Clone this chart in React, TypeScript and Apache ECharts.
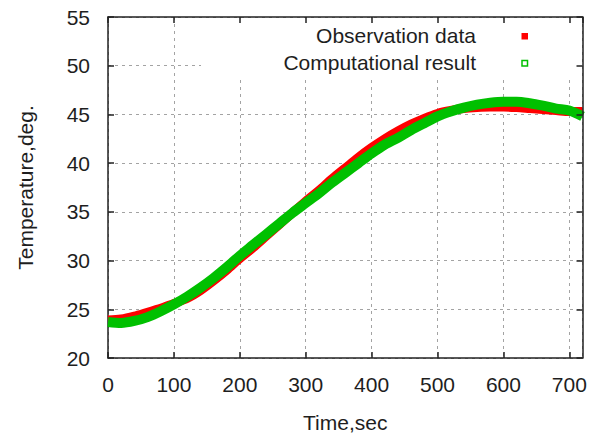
import React, { useEffect, useRef } from "react";
import * as echarts from "echarts";

// time (sec)
const times: number[] = [
  0, 20, 40, 60, 80, 100, 120, 140, 160, 180, 200, 220, 240, 260, 280, 300, 320, 340, 360,
  380, 400, 420, 440, 460, 480, 500, 520, 540, 560, 580, 600, 620, 640, 660, 680, 700, 720,
];

// Observation data (deg.)
const observed: number[] = [
  23.9, 24.0, 24.3, 24.7, 25.1, 25.6, 26.1, 26.9, 27.9, 29.0, 30.2, 31.3, 32.5, 33.7, 34.9,
  36.1, 37.2, 38.4, 39.5, 40.6, 41.6, 42.5, 43.3, 44.0, 44.6, 45.1, 45.4, 45.6, 45.7, 45.75,
  45.75, 45.7, 45.6, 45.5, 45.4, 45.3, 45.3,
];

// Computational result (deg.)
const computed: number[] = [
  23.7, 23.6, 23.8, 24.2, 24.8, 25.5, 26.3, 27.2, 28.2, 29.3, 30.5, 31.6, 32.7, 33.8, 34.9,
  35.9, 36.9, 38.0, 39.0, 40.0, 41.0, 41.9, 42.6, 43.4, 44.1, 44.8, 45.3, 45.7, 46.0, 46.2,
  46.3, 46.3, 46.15, 45.9, 45.6, 45.4, 44.8,
];

const seriesNames = ["Observation data", "Computational result"];
const xTitle = "Time,sec";
const yTitle = "Temperature,deg.";

const FONT = "'Liberation Sans', Arial, sans-serif";
const TXT = "#1e1e1e";

export default function App() {
  const ref = useRef<HTMLDivElement>(null);
  useEffect(() => {
    if (!ref.current) return;
    document.body.style.margin = "0";
    const chart = echarts.init(ref.current, undefined, { renderer: "svg" });
    const pairs = (ys: number[]) => times.map((t, i) => [t, ys[i]]);
    const gridLine = { show: true, lineStyle: { color: "#a3a3a3", width: 1, type: [3, 4] as any } };
    const axisLine = { show: true, onZero: false, lineStyle: { color: "#222", width: 1.5 } };
    const axisTick = { show: true, inside: true, length: 6, lineStyle: { color: "#222", width: 1.5 } };
    chart.setOption({
      animation: false,
      backgroundColor: "#ffffff",
      textStyle: { fontFamily: FONT },
      grid: { left: 108, top: 17, width: 474.5, height: 342, containLabel: false },
      xAxis: [
        {
          type: "value",
          min: 0,
          max: 720,
          interval: 100,
          position: "bottom",
          name: xTitle,
          nameLocation: "middle",
          nameGap: 54,
          nameTextStyle: { fontSize: 21, color: TXT, fontFamily: FONT },
          axisLine,
          axisTick,
          splitLine: gridLine,
          axisLabel: {
            fontSize: 21,
            color: TXT,
            fontFamily: FONT,
            margin: 16,
            showMaxLabel: false,
            formatter: (v: number) => (v % 100 === 0 ? String(v) : ""),
          },
        },
        {
          type: "value",
          min: 0,
          max: 720,
          interval: 100,
          position: "top",
          z: 10,
          axisLine,
          axisTick,
          splitLine: { show: false },
          axisLabel: { show: false },
        },
      ],
      yAxis: [
        {
          type: "value",
          min: 20,
          max: 55,
          interval: 5,
          position: "left",
          name: yTitle,
          nameLocation: "middle",
          nameGap: 72,
          nameRotate: 90,
          nameTextStyle: { fontSize: 21, color: TXT, fontFamily: FONT },
          axisLine,
          axisTick,
          splitLine: gridLine,
          axisLabel: { fontSize: 21, color: TXT, fontFamily: FONT, margin: 18 },
        },
        {
          type: "value",
          min: 20,
          max: 55,
          interval: 5,
          position: "right",
          z: 10,
          axisLine,
          axisTick,
          splitLine: { show: false },
          axisLabel: { show: false },
        },
      ],
      series: [
        {
          name: seriesNames[0],
          type: "line",
          data: pairs(observed),
          smooth: 0.3,
          showSymbol: false,
          clip: false,
          z: 3,
          lineStyle: { color: "#ff0000", width: 9, cap: "butt", join: "round" },
        },
        {
          name: seriesNames[1],
          type: "line",
          data: pairs(computed),
          smooth: 0.3,
          showSymbol: false,
          clip: false,
          z: 4,
          lineStyle: { color: "#00c000", width: 10, cap: "butt", join: "round" },
        },
      ],
      graphic: [
        {
          type: "rect",
          z: 5,
          shape: { x: 201, y: 18.2, width: 381, height: 58 },
          style: { fill: "#ffffff" },
        },
        {
          type: "text",
          z: 11,
          x: 476,
          y: 35,
          style: {
            text: seriesNames[0],
            fontSize: 21,
            fontFamily: FONT,
            fill: TXT,
            align: "right",
            verticalAlign: "middle",
          },
        },
        {
          type: "text",
          z: 11,
          x: 476,
          y: 62,
          style: {
            text: seriesNames[1],
            fontSize: 21,
            fontFamily: FONT,
            fill: TXT,
            align: "right",
            verticalAlign: "middle",
          },
        },
        {
          type: "rect",
          z: 11,
          shape: { x: 521.5, y: 33, width: 6.5, height: 6.5 },
          style: { fill: "#ff0000" },
        },
        {
          type: "rect",
          z: 11,
          shape: { x: 522, y: 60.5, width: 5.5, height: 5.5 },
          style: { fill: "#ffffff", stroke: "#00c000", lineWidth: 1.5 },
        },
      ],
    });
    return () => chart.dispose();
  }, []);
  return (
    <div
      ref={ref}
      style={{ position: "absolute", left: 0, top: 0, width: 595, height: 438 }}
    />
  );
}
